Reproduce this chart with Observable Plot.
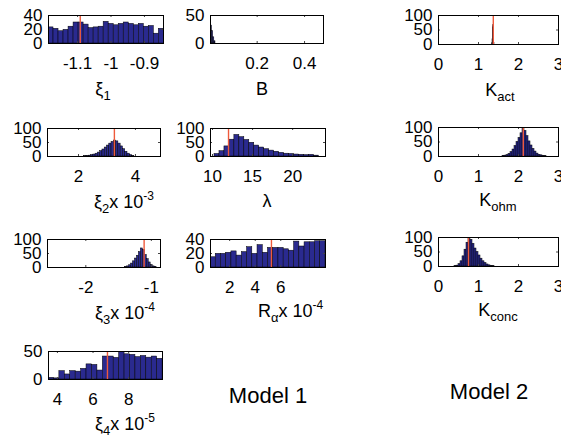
<!DOCTYPE html>
<html>
<head>
<meta charset="utf-8">
<script src="https://cdn.jsdelivr.net/npm/d3@7"></script>
<script src="https://cdn.jsdelivr.net/npm/@observablehq/plot@0.6"></script>
<style>
  html, body { margin: 0; padding: 0; background: #fff; }
  #chart { position: relative; width: 561px; height: 443px; overflow: hidden; background: #fff;
           font-family: "Liberation Sans", Arial, sans-serif; color: #000; }
  .lbl { position: absolute; white-space: nowrap; line-height: 1; }
  .lbl sub { font-size: 13px; vertical-align: -5px; line-height: 0; }
  .lbl sup { font-size: 12px; vertical-align: 8px; line-height: 0; }
</style>
</head>
<body>
<div id="chart"></div>
<script>
// ---------------- data ----------------
// xi_1
const xi1Start = -1.187, xi1Bin = 0.015, xi1Mean = -1.092;
const xi1Counts = [23, 21, 17.5, 19.5, 24, 30, 30, 27, 22, 23, 24, 31, 28, 26, 28, 30, 28, 26, 28, 24, 25, 14, 21];
const xi1Domain = [-1.187, -0.843];
const xi1Ticks = [-1.1, -1, -0.9];
// B
const bStart = 0.004, bBin = 0.005;
const bCounts = [32, 22, 11, 4];
const bDomain = [0.003, 0.48];
const bTicks = [0.2, 0.4];
// K_act
const kactStart = 1.34, kactBin = 0.01, kactMean = 1.37;
const kactCounts = [4, 18, 62, 68, 28, 6];
// xi_2 (x 10^-3)
const xi2Start = 2.2, xi2Bin = 0.08, xi2Mean = 3.26;
const xi2Counts = [1, 2, 3, 5, 7, 10, 14, 19, 25, 32, 39, 46, 52, 57, 54, 46, 36, 26, 17, 10, 5, 2];
const xi2Domain = [0.91, 4.88];
const xi2Ticks = [2, 4];
// lambda
const lamStart = 10.25, lamBin = 0.62, lamMean = 12.0;
const lamCounts = [9, 19, 36, 60, 77, 69, 59, 49, 39, 32, 26, 21, 17, 13, 10, 9, 7, 6, 5, 6, 3];
const lamDomain = [9.75, 24.1];
const lamTicks = [10, 15, 20];
// K_ohm
const kohmStart = 1.6, kohmBin = 0.05, kohmMean = 2.12;
const kohmCounts = [2, 3, 5, 9, 15, 24, 36, 50, 64, 80, 96, 88, 70, 52, 38, 26, 17, 10, 6, 4, 2, 1];
// xi_3 (x 10^-4)
const xi3Start = -1.40, xi3Bin = 0.03, xi3Mean = -1.11;
const xi3Counts = [2, 4, 8, 14, 22, 32, 42, 55, 68, 62, 45, 30, 18, 9, 4, 2];
const xi3Domain = [-2.585, -0.86];
const xi3Ticks = [-2, -1];
// R_alpha (x 10^-4)
const rStart = 0.5, rBin = 0.409, rMean = 5.27;
const rCounts = [14.6, 19.5, 19.5, 21, 23, 17, 22, 29, 19.5, 32, 21, 28, 28, 28, 26, 24, 37, 30, 36, 36, 37.5, 37.5];
const rDomain = [0.5, 9.5];
const rTicks = [2, 4, 6];
// K_conc
const kconcStart = 0.40, kconcBin = 0.05, kconcMean = 0.75;
const kconcCounts = [1, 3, 8, 18, 35, 58, 82, 95, 92, 78, 62, 50, 38, 27, 18, 12, 7, 4, 2, 1];
// xi_4 (x 10^-5)
const xi4Start = 3.5, xi4Bin = 0.305, xi4Mean = 6.81;
const xi4Counts = [3, 2, 15, 9, 15, 14, 19, 27, 26, 16, 41, 41, 38.6, 50, 45, 44, 40, 42, 39, 41, 37];
const xi4Domain = [3.5, 9.9];
const xi4Ticks = [4, 6, 8];
// shared K axes
const kDomain = [0, 3];
const kTicks = [0, 1, 2, 3];
const y100Ticks = [0, 50, 100];
const y40Ticks = [0, 20, 40];
const y50Ticks = [0, 50];

// ---------------- drawing ----------------
const chart = document.getElementById("chart");
const FONT = "Liberation Sans, Arial, sans-serif";
const BAR = "#2a2a8f";
const RED = "#ef5a3c";

function bins(start, bin, counts) {
  return counts.map((n, i) => ({x1: start + i * bin, x2: start + (i + 1) * bin, n}));
}

function panel(box, {start, bin, counts, mean, xDomain, xTicks, yMax, yTicks}) {
  const mL = 48, mR = 14, mT = 14, mB = 40;
  const w = box.r - box.l, h = box.b - box.t;
  const fmt = d => String(d);
  const marks = [
    Plot.rectY(bins(start, bin, counts), {x1: "x1", x2: "x2", y: "n", fill: BAR, stroke: "#000", strokeWidth: 0.5, clip: true}),
  ];
  if (mean != null) marks.push(Plot.ruleX([mean], {stroke: RED, strokeWidth: 1.4}));
  marks.push(
    Plot.tickX(xTicks, {x: d => d, insetBottom: h - 2, stroke: "#444"}),
    Plot.tickX(xTicks, {x: d => d, insetTop: h - 2, stroke: "#444"}),
    Plot.tickY(yTicks, {y: d => d, insetRight: w - 2, stroke: "#444"}),
    Plot.tickY(yTicks, {y: d => d, insetLeft: w - 2, stroke: "#444"}),
    Plot.frame({stroke: "#000", strokeWidth: 1}),
    Plot.axisX({ticks: xTicks, tickFormat: fmt, tickSize: 0, tickPadding: 13, fontSize: 17, label: null}),
    Plot.axisY({ticks: yTicks, tickFormat: fmt, tickSize: 0, tickPadding: 6, fontSize: 17, label: null})
  );
  const svg = Plot.plot({
    width: w + mL + mR, height: h + mT + mB,
    marginLeft: mL, marginRight: mR, marginTop: mT, marginBottom: mB,
    x: {domain: xDomain}, y: {domain: [0, yMax]},
    style: {fontFamily: FONT, fontSize: "17px", color: "#000", background: "transparent", overflow: "visible"},
    marks
  });
  svg.style.position = "absolute";
  svg.style.left = (box.l - mL) + "px";
  svg.style.top = (box.t - mT) + "px";
  svg.style.maxWidth = "none";
  chart.appendChild(svg);
}

function label(html, x, baseline, anchor = "middle", size = 18) {
  const d = document.createElement("div");
  d.className = "lbl";
  d.innerHTML = html;
  d.style.fontSize = size + "px";
  d.style.left = x + "px";
  d.style.top = (baseline - 0.85 * size) + "px";
  d.style.transform = anchor === "middle" ? "translateX(-50%)" : anchor === "end" ? "translateX(-100%)" : "none";
  chart.appendChild(d);
}

// row 1
panel({l: 48, t: 15, r: 163, b: 43}, {start: xi1Start, bin: xi1Bin, counts: xi1Counts, mean: xi1Mean, xDomain: xi1Domain, xTicks: xi1Ticks, yMax: 40, yTicks: y40Ticks});
panel({l: 210, t: 15, r: 323, b: 43}, {start: bStart, bin: bBin, counts: bCounts, mean: null, xDomain: bDomain, xTicks: bTicks, yMax: 50, yTicks: y50Ticks});
panel({l: 438, t: 15, r: 558, b: 44}, {start: kactStart, bin: kactBin, counts: kactCounts, mean: kactMean, xDomain: kDomain, xTicks: kTicks, yMax: 100, yTicks: y100Ticks});
// row 2
panel({l: 47, t: 128, r: 160, b: 156}, {start: xi2Start, bin: xi2Bin, counts: xi2Counts, mean: xi2Mean, xDomain: xi2Domain, xTicks: xi2Ticks, yMax: 100, yTicks: y100Ticks});
panel({l: 210, t: 128, r: 325, b: 156}, {start: lamStart, bin: lamBin, counts: lamCounts, mean: lamMean, xDomain: lamDomain, xTicks: lamTicks, yMax: 100, yTicks: y100Ticks});
panel({l: 438, t: 127, r: 558, b: 156}, {start: kohmStart, bin: kohmBin, counts: kohmCounts, mean: kohmMean, xDomain: kDomain, xTicks: kTicks, yMax: 100, yTicks: y100Ticks});
// row 3
panel({l: 47, t: 239, r: 160, b: 267}, {start: xi3Start, bin: xi3Bin, counts: xi3Counts, mean: xi3Mean, xDomain: xi3Domain, xTicks: xi3Ticks, yMax: 100, yTicks: y100Ticks});
panel({l: 210, t: 239, r: 325, b: 267}, {start: rStart, bin: rBin, counts: rCounts, mean: rMean, xDomain: rDomain, xTicks: rTicks, yMax: 40, yTicks: y40Ticks});
panel({l: 438, t: 237, r: 558, b: 266}, {start: kconcStart, bin: kconcBin, counts: kconcCounts, mean: kconcMean, xDomain: kDomain, xTicks: kTicks, yMax: 100, yTicks: y100Ticks});
// row 4
panel({l: 48, t: 351, r: 162, b: 379}, {start: xi4Start, bin: xi4Bin, counts: xi4Counts, mean: xi4Mean, xDomain: xi4Domain, xTicks: xi4Ticks, yMax: 50, yTicks: y50Ticks});

// axis labels
label("ξ<sub>1</sub>", 103, 95);
label("B", 262, 95);
label("K<sub>act</sub>", 500, 96);
label("ξ<sub>2</sub>x 10<sup>-3</sup>", 94, 208, "start");
label("λ", 267, 207);
label("K<sub>ohm</sub>", 498, 206);
label("ξ<sub>3</sub>x 10<sup>-4</sup>", 95, 319, "start");
label("R<sub>α</sub>x 10<sup>-4</sup>", 258, 317, "start");
label("K<sub>conc</sub>", 498, 316);
label("ξ<sub>4</sub>x 10<sup>-5</sup>", 95, 430, "start");
label("Model 1", 268, 404, "middle", 22);
label("Model 2", 489, 400, "middle", 22);
</script>
</body>
</html>
